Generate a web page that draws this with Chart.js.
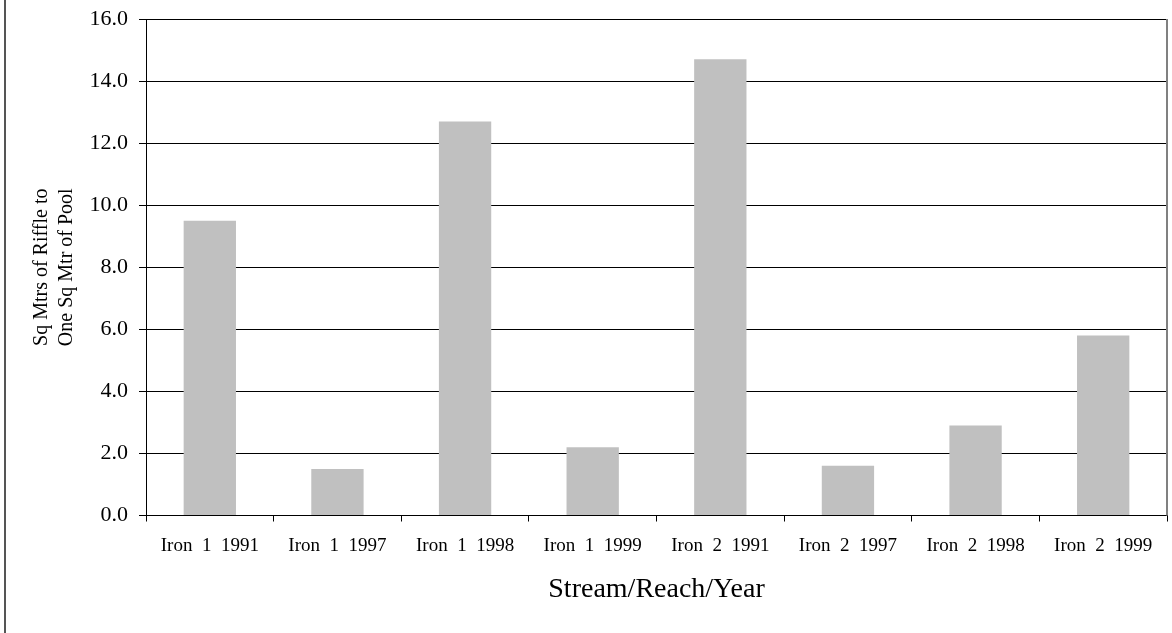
<!DOCTYPE html>
<html>
<head>
<meta charset="utf-8">
<script src="https://cdn.jsdelivr.net/npm/chart.js@4/dist/chart.umd.min.js"></script>
<style>
  html, body { margin: 0; padding: 0; background: #fff; }
  #wrap { width: 1172px; height: 633px; position: relative; }
</style>
</head>
<body>
<div id="wrap"><canvas id="barChart"></canvas></div>
<script>
// data
var categories = ['Iron  1  1991', 'Iron  1  1997', 'Iron  1  1998', 'Iron  1  1999',
                  'Iron  2  1991', 'Iron  2  1997', 'Iron  2  1998', 'Iron  2  1999'];
var ratios = [9.5, 1.5, 12.7, 2.2, 14.7, 1.6, 2.9, 5.8];
var yTitle = ['Sq Mtrs of Riffle to', 'One Sq Mtr of Pool'];
var xTitle = 'Stream/Reach/Year';

// outer frame line on the left + grey right edge of the plot area
var framePlugin = {
    id: 'frame',
    beforeDraw: function (chart) {
        var ctx = chart.ctx;
        ctx.save();
        ctx.fillStyle = '#555';
        ctx.fillRect(4, 0, 2, chart.height);
        ctx.restore();
    },
    afterDraw: function (chart) {
        var ctx = chart.ctx, a = chart.chartArea;
        ctx.save();
        ctx.strokeStyle = '#808080';
        ctx.lineWidth = 2;
        ctx.beginPath();
        ctx.moveTo(a.right, a.top);
        ctx.lineTo(a.right, a.bottom);
        ctx.stroke();
        ctx.restore();
    }
};

var barChartCtx = document.getElementById('barChart').getContext('2d');
var barChart = new Chart(barChartCtx, {
    type: 'bar',
    data: {
        labels: categories,
        datasets: [{
            data: ratios,
            backgroundColor: '#C0C0C0',
            categoryPercentage: 1,
            barPercentage: 0.41
        }]
    },
    options: {
        responsive: true,
        maintainAspectRatio: false,
        animation: false,
        layout: { padding: { top: 19, right: 5, left: 0, bottom: 0 } },
        plugins: { legend: { display: false }, tooltip: { enabled: false } },
        scales: {
            x: {
                grid: { offset: true, drawOnChartArea: false, tickLength: 6, color: '#000' },
                border: { color: '#000', width: 1 },
                ticks: {
                    color: '#000', padding: 13, maxRotation: 0, autoSkip: false,
                    font: { family: 'Liberation Serif', size: 19 }
                },
                title: {
                    display: true, text: xTitle, color: '#000',
                    font: { family: 'Liberation Serif', size: 28, lineHeight: 1.2 },
                    padding: { top: 0, bottom: 27 }
                },
                afterFit: function (scale) { scale.height = 117.5; }
            },
            y: {
                min: 0,
                max: 16,
                grid: { color: '#000', tickLength: 7 },
                border: { color: '#000', width: 1 },
                ticks: {
                    stepSize: 2, color: '#000', padding: 11,
                    font: { family: 'Liberation Serif', size: 22 },
                    callback: function (v) { return v.toFixed(1); }
                },
                title: {
                    display: true, text: yTitle, color: '#000',
                    font: { family: 'Liberation Serif', size: 20, lineHeight: 1.25 },
                    padding: { top: 29, bottom: 0 }
                },
                afterFit: function (scale) {
                    scale.width = 146;
                    scale.paddingTop = 0;
                    scale.paddingBottom = 0;
                }
            }
        }
    },
    plugins: [framePlugin]
});
</script>
</body>
</html>
